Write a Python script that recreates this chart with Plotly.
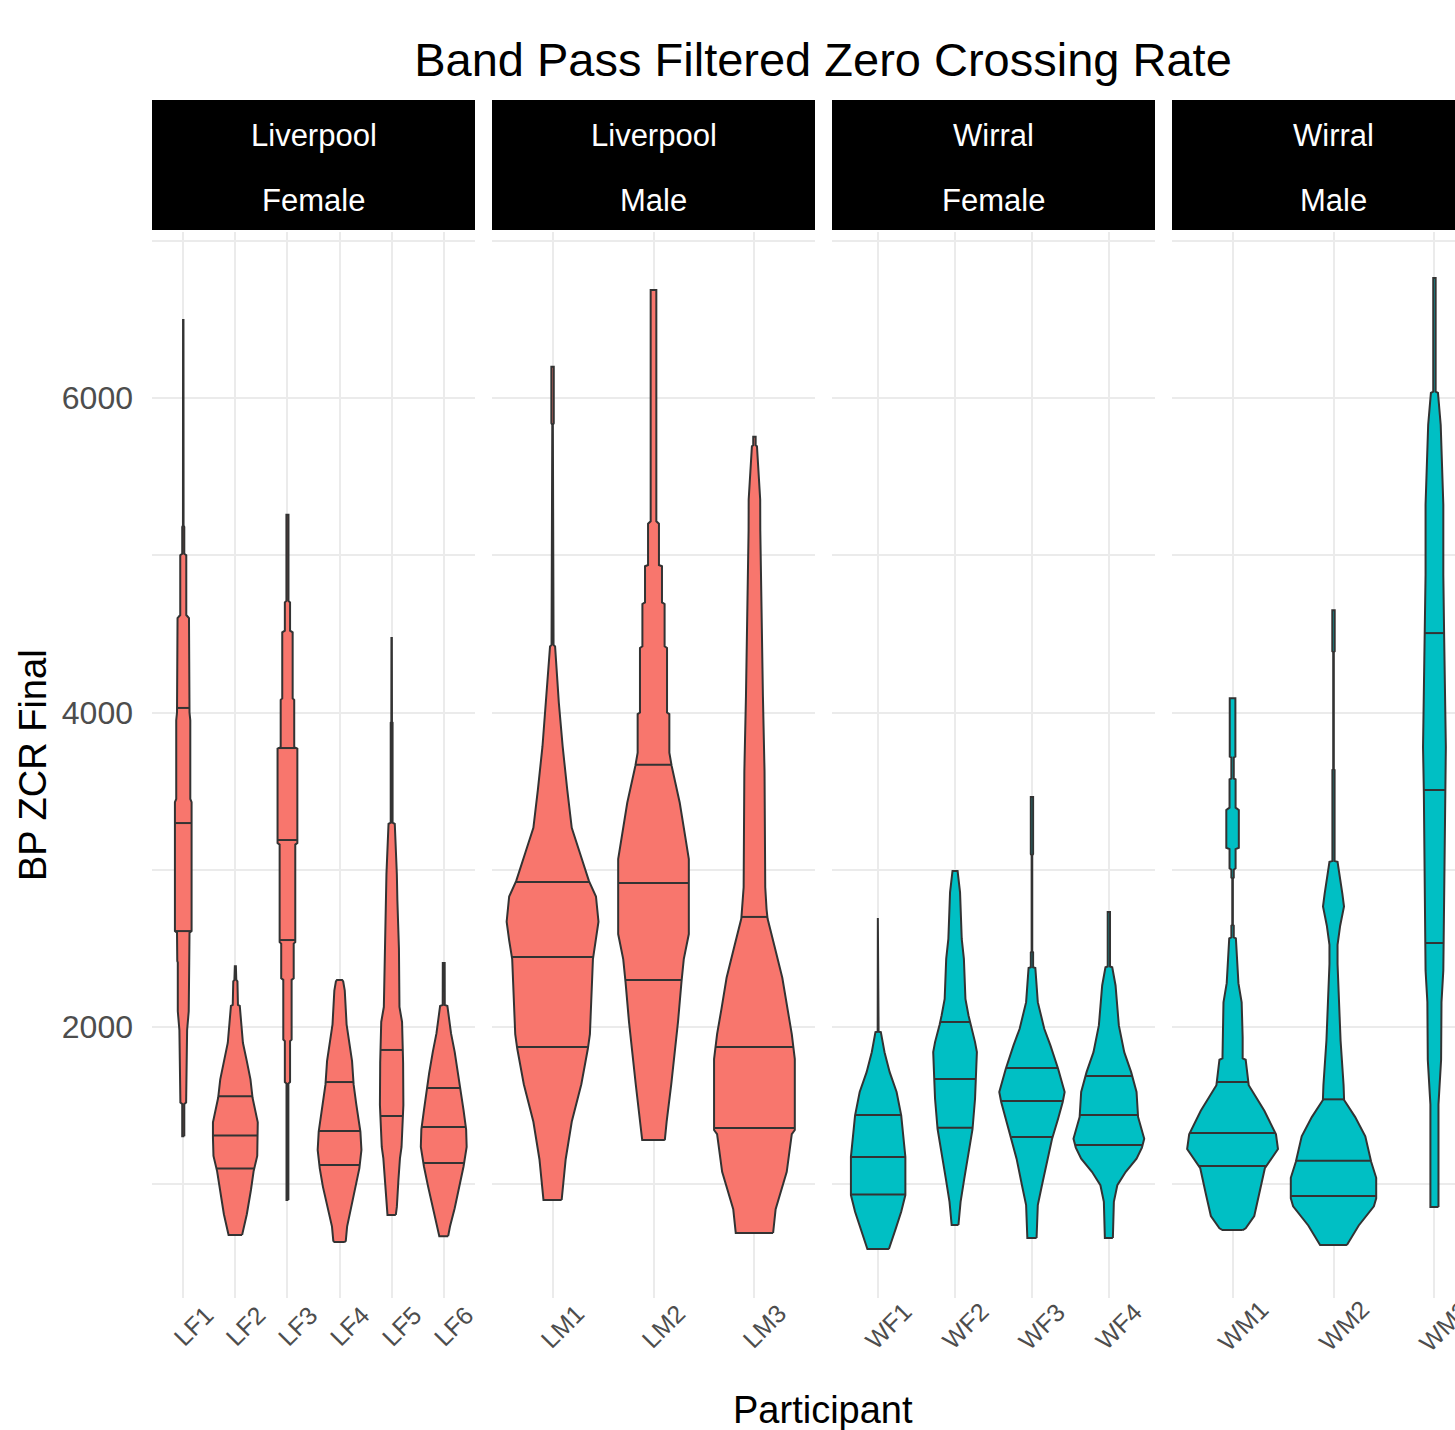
import numpy as np
import plotly.graph_objects as go

# ---------------- data ----------------
title_text = "Band Pass Filtered Zero Crossing Rate"
y_title = "BP ZCR Final"
x_title = "Participant"

facet_city = ["Liverpool", "Liverpool", "Wirral", "Wirral"]
facet_sex = ["Female", "Male", "Female", "Male"]
panel_participants = [
    ["LF1", "LF2", "LF3", "LF4", "LF5", "LF6"],
    ["LM1", "LM2", "LM3"],
    ["WF1", "WF2", "WF3", "WF4"],
    ["WM1", "WM2", "WM3"],
]
city_colors = {"Liverpool": "#F8766D", "Wirral": "#00BFC4"}

y_major_ticks = [2000, 4000, 6000]

# violin outline profiles: (BP ZCR value, half width in category units)
LF1_profile = [(6496, 0.004), (5190, 0.006), (5180, 0.02), (5010, 0.02), (5000, 0.058), (4620, 0.058),
               (4600, 0.11), (4000, 0.12), (3950, 0.135), (3450, 0.135), (3430, 0.16), (2610, 0.16),
               (2600, 0.12), (2420, 0.115), (2410, 0.105), (2100, 0.105), (1980, 0.074), (1520, 0.055),
               (1510, 0.02), (1305, 0.02)]
LF2_profile = [(2387, 0.01), (2300, 0.018), (2290, 0.04), (2140, 0.05), (2134, 0.085), (1900, 0.145),
               (1783, 0.22), (1667, 0.29), (1550, 0.33), (1394, 0.43), (1296, 0.43), (1180, 0.42),
               (1082, 0.35), (965, 0.3), (809, 0.22), (692, 0.14), (678, 0.13)]
LF3_profile = [(5257, 0.02), (4710, 0.02), (4700, 0.05), (4520, 0.05), (4510, 0.1), (4090, 0.1),
               (4080, 0.13), (3780, 0.13), (3770, 0.19), (3170, 0.19), (3160, 0.15), (2540, 0.15),
               (2530, 0.12), (2310, 0.12), (2300, 0.08), (1920, 0.08), (1910, 0.05), (1650, 0.05),
               (1640, 0.018), (900, 0.018)]
LF4_profile = [(2299, 0.05), (2290, 0.07), (2232, 0.1), (2017, 0.135), (1900, 0.19), (1783, 0.24),
               (1635, 0.27), (1511, 0.32), (1335, 0.4), (1218, 0.42), (1101, 0.38), (985, 0.32),
               (848, 0.22), (731, 0.145), (640, 0.12), (633, 0.1)]
LF5_profile = [(4474, 0.004), (3940, 0.006), (3935, 0.018), (3300, 0.018), (3292, 0.06), (2972, 0.1),
               (2804, 0.11), (2500, 0.14), (2394, 0.144), (2127, 0.15), (2032, 0.2), (1771, 0.22),
               (1504, 0.225), (1300, 0.2), (1237, 0.19), (1167, 0.16), (1027, 0.13), (856, 0.1),
               (805, 0.08)]
LF6_profile = [(2407, 0.018), (2140, 0.02), (2134, 0.07), (1959, 0.14), (1842, 0.21), (1706, 0.28),
               (1472, 0.38), (1347, 0.43), (1238, 0.44), (1113, 0.38), (985, 0.3), (848, 0.21),
               (731, 0.12), (670, 0.085)]
LM1_profile = [(6198, 0.012), (5840, 0.012), (5830, 0.003), (5320, 0.003), (5310, 0.01), (4430, 0.01),
               (4420, 0.025), (4222, 0.047), (4063, 0.062), (3784, 0.1), (3506, 0.146), (3267, 0.19),
               (3108, 0.27), (2929, 0.36), (2830, 0.43), (2670, 0.455), (2551, 0.43), (2432, 0.4),
               (1955, 0.37), (1863, 0.35), (1636, 0.285), (1397, 0.19), (1159, 0.13), (900, 0.09)]
LM2_profile = [(6687, 0.028), (5216, 0.028), (5200, 0.054), (4938, 0.054), (4930, 0.084), (4700, 0.084),
               (4690, 0.11), (4421, 0.11), (4410, 0.134), (4000, 0.134), (3990, 0.157), (3744, 0.157),
               (3660, 0.18), (3426, 0.26), (3188, 0.32), (3068, 0.35), (2591, 0.35), (2432, 0.3),
               (2285, 0.277), (2034, 0.243), (1636, 0.176), (1397, 0.13), (1281, 0.112)]
LM3_profile = [(5753, 0.012), (5700, 0.012), (5693, 0.025), (5355, 0.057), (5157, 0.058), (4103, 0.084),
               (3625, 0.1), (2889, 0.107), (2750, 0.12), (2690, 0.13), (2511, 0.2), (2313, 0.276),
               (2114, 0.327), (1955, 0.37), (1796, 0.4), (1345, 0.4), (1318, 0.37), (1079, 0.32),
               (841, 0.21), (690, 0.185)]
WF1_profile = [(2693, 0.004), (1970, 0.006), (1967, 0.035), (1840, 0.083), (1713, 0.15), (1587, 0.24),
               (1438, 0.3), (1174, 0.354), (931, 0.354), (825, 0.3), (719, 0.23), (634, 0.175),
               (588, 0.14)]
WF2_profile = [(2992, 0.033), (2856, 0.065), (2560, 0.087), (2433, 0.115), (2179, 0.135), (2073, 0.175),
               (2016, 0.2), (1904, 0.26), (1840, 0.284), (1665, 0.27), (1544, 0.26), (1350, 0.227),
               (1206, 0.175), (1036, 0.12), (888, 0.072), (741, 0.044)]
WF3_profile = [(3463, 0.015), (3100, 0.015), (3090, 0.004), (2480, 0.004), (2475, 0.015), (2380, 0.015),
               (2375, 0.044), (2158, 0.076), (1989, 0.16), (1883, 0.24), (1735, 0.34), (1587, 0.425),
               (1523, 0.4), (1417, 0.34), (1286, 0.26), (1163, 0.2), (994, 0.13), (867, 0.076),
               (658, 0.06)]
WF4_profile = [(2732, 0.015), (2385, 0.015), (2380, 0.044), (2264, 0.087), (2010, 0.13), (1840, 0.2),
               (1713, 0.29), (1587, 0.36), (1428, 0.38), (1290, 0.46), (1233, 0.43), (1163, 0.36),
               (1079, 0.22), (994, 0.11), (888, 0.065), (658, 0.052)]
WM1_profile = [(4091, 0.028), (3720, 0.028), (3715, 0.012), (3580, 0.012), (3575, 0.03), (3395, 0.03),
               (3380, 0.062), (3140, 0.062), (3131, 0.03), (3009, 0.03), (3000, 0.012), (2950, 0.012),
               (2945, 0.003), (2650, 0.003), (2644, 0.012), (2570, 0.012), (2563, 0.033), (2279, 0.058),
               (2157, 0.09), (1934, 0.1), (1800, 0.1), (1792, 0.13), (1630, 0.16), (1467, 0.315),
               (1317, 0.43), (1224, 0.45), (1102, 0.32), (940, 0.265), (798, 0.215), (720, 0.13),
               (709, 0.1)]
WM2_profile = [(4651, 0.012), (4390, 0.012), (4385, 0.003), (3640, 0.003), (3635, 0.011), (3055, 0.011),
               (3050, 0.04), (2847, 0.088), (2766, 0.104), (2644, 0.066), (2522, 0.04), (2400, 0.04),
               (1914, 0.07), (1630, 0.1), (1536, 0.105), (1427, 0.215), (1305, 0.315), (1143, 0.373),
               (1041, 0.423), (911, 0.423), (860, 0.4), (738, 0.25), (613, 0.133)]
WM3_profile = [(6763, 0.012), (6040, 0.012), (6032, 0.035), (5830, 0.062), (5485, 0.078), (5322, 0.088),
               (4876, 0.088), (4490, 0.096), (3780, 0.113), (3496, 0.105), (3009, 0.096), (2360, 0.088),
               (2157, 0.07), (1792, 0.066), (1508, 0.04), (855, 0.04)]

# drawn quantile lines (75%, 50%, 25%)
LF1_quantiles = [4029, 3297, 2610]
LF2_quantiles = [1560, 1310, 1100]
LF3_quantiles = [3774, 3189, 2553]
LF4_quantiles = [1650, 1338, 1122]
LF5_quantiles = [1854, 1434]
LF6_quantiles = [1612, 1364, 1135]
LM1_quantiles = [2922, 2445, 1873]
LM2_quantiles = [3667, 2916, 2299]
LM3_quantiles = [2700, 1873, 1358]
WF1_quantiles = [1440, 1174, 935]
WF2_quantiles = [2032, 1670, 1360]
WF3_quantiles = [1739, 1529, 1300]
WF4_quantiles = [1688, 1440, 1250]
WM1_quantiles = [1650, 1326, 1116]
WM2_quantiles = [1540, 1150, 925]
WM3_quantiles = [4505, 3507, 2534]

profiles = {
    "LF1": LF1_profile, "LF2": LF2_profile, "LF3": LF3_profile, "LF4": LF4_profile,
    "LF5": LF5_profile, "LF6": LF6_profile, "LM1": LM1_profile, "LM2": LM2_profile,
    "LM3": LM3_profile, "WF1": WF1_profile, "WF2": WF2_profile, "WF3": WF3_profile,
    "WF4": WF4_profile, "WM1": WM1_profile, "WM2": WM2_profile, "WM3": WM3_profile,
}
quantiles = {
    "LF1": LF1_quantiles, "LF2": LF2_quantiles, "LF3": LF3_quantiles, "LF4": LF4_quantiles,
    "LF5": LF5_quantiles, "LF6": LF6_quantiles, "LM1": LM1_quantiles, "LM2": LM2_quantiles,
    "LM3": LM3_quantiles, "WF1": WF1_quantiles, "WF2": WF2_quantiles, "WF3": WF3_quantiles,
    "WF4": WF4_quantiles, "WM1": WM1_quantiles, "WM2": WM2_quantiles, "WM3": WM3_quantiles,
}

# ---------------- layout geometry ----------------
W, H = 1455, 1430
L_M, T_M, B_M = 152, 232, 132
plot_w = W - L_M
plot_h = H - T_M - B_M
panel_px = [(152, 475), (492, 815), (832, 1155), (1172, 1495)]  # last panel is cut by the page edge
px_per_val = 0.15725
y_range = [(1341.5 - (T_M + plot_h)) / px_per_val, (1341.5 - T_M) / px_per_val]

def xp(px):
    return (px - L_M) / plot_w

def yp(py):
    return (T_M + plot_h - py) / plot_h

OUTLINE = "#333333"
GRID = "#EBEBEB"
TICK_COL = "#4D4D4D"
FONT = "Liberation Sans, Arial, sans-serif"

fig = go.Figure()
layout_axes = {}
shapes = []
annotations = []

for i, parts in enumerate(panel_participants):
    k = "" if i == 0 else str(i + 1)
    xa, ya = "x" + k, "y" + k
    n = len(parts)
    full_range = [0.4, n + 0.6]
    p0, p1 = panel_px[i]
    unit = (p1 - p0) / (full_range[1] - full_range[0])
    vis_p1 = min(p1, W)
    rng = [full_range[0], full_range[0] + (vis_p1 - p0) / unit]
    color = city_colors[facet_city[i]]

    for j, name in enumerate(parts):
        c = j + 1
        prof = sorted(profiles[name], key=lambda t: t[0])
        vals = np.array([p[0] for p in prof], dtype=float)
        hw = np.array([p[1] for p in prof], dtype=float)
        xs = np.concatenate([c + hw, (c - hw)[::-1], [c + hw[0]]])
        ys = np.concatenate([vals, vals[::-1], [vals[0]]])
        fig.add_trace(go.Scatter(
            x=xs, y=ys, xaxis=xa, yaxis=ya, mode="lines", fill="toself",
            fillcolor=color, line=dict(color=OUTLINE, width=2), hoverinfo="skip",
        ))
        qx, qy = [], []
        for q in quantiles[name]:
            w = float(np.interp(q, vals, hw))
            qx += [c - w, c + w, None]
            qy += [q, q, None]
        fig.add_trace(go.Scatter(
            x=qx, y=qy, xaxis=xa, yaxis=ya, mode="lines",
            line=dict(color=OUTLINE, width=2), hoverinfo="skip",
        ))
        # rotated tick label
        annotations.append(dict(
            text=name, xref=xa, x=c, yref="paper", y=yp(1326), xshift=10,
            showarrow=False, textangle=-45, xanchor="center", yanchor="middle",
            font=dict(size=25, color=TICK_COL, family=FONT),
        ))

    layout_axes["xaxis" + k] = dict(
        domain=[xp(p0), xp(vis_p1)], range=rng, anchor=ya,
        tickmode="array", tickvals=list(range(1, n + 1)), showticklabels=False,
        showgrid=True, gridcolor=GRID, gridwidth=2, zeroline=False, showline=False, ticks="",
    )
    yax = dict(
        domain=[0, 1], range=y_range, anchor=xa,
        tickmode="array", tickvals=y_major_ticks, ticktext=[str(v) for v in y_major_ticks],
        showgrid=True, gridcolor=GRID, gridwidth=2, zeroline=False, showline=False, ticks="",
        minor=dict(dtick=1000, tick0=0, showgrid=True, gridcolor=GRID, gridwidth=1.5),
        tickfont=dict(size=32, color=TICK_COL, family=FONT), ticklabelstandoff=18,
    )
    if i > 0:
        yax["matches"] = "y"
        yax["showticklabels"] = False
    layout_axes["yaxis" + k] = yax

    # facet strip
    shapes.append(dict(
        type="rect", xref=xa + " domain", x0=0, x1=1, yref="paper",
        y0=yp(230), y1=yp(100), fillcolor="black", line=dict(width=0), layer="above",
    ))
    mid = (full_range[0] + full_range[1]) / 2
    annotations.append(dict(
        text=facet_city[i], xref=xa, x=mid, yref="paper", y=yp(135), showarrow=False,
        xanchor="center", yanchor="middle", font=dict(size=31, color="white", family=FONT),
    ))
    annotations.append(dict(
        text=facet_sex[i], xref=xa, x=mid, yref="paper", y=yp(200), showarrow=False,
        xanchor="center", yanchor="middle", font=dict(size=31, color="white", family=FONT),
    ))

# axis titles
annotations.append(dict(
    text=y_title, xref="paper", x=xp(33), yref="paper", y=yp(765), showarrow=False,
    textangle=-90, xanchor="center", yanchor="middle", font=dict(size=38, color="black", family=FONT),
))
annotations.append(dict(
    text=x_title, xref="paper", x=xp(823), yref="paper", y=yp(1410), showarrow=False,
    xanchor="center", yanchor="middle", font=dict(size=38, color="black", family=FONT),
))

fig.update_layout(
    width=W, height=H,
    margin=dict(l=L_M, r=0, t=T_M, b=B_M, pad=0),
    plot_bgcolor="white", paper_bgcolor="white", showlegend=False,
    font=dict(family=FONT),
    title=dict(text=title_text, x=xp(823), xref="paper", xanchor="center",
               y=1 - 60 / H, yref="container", yanchor="middle",
               font=dict(size=47, color="black", family=FONT)),
    shapes=shapes, annotations=annotations,
    **layout_axes,
)

fig.write_html(
    "out.html",
    config={"displayModeBar": False},
    post_script="document.body.style.margin='0';document.body.style.overflow='hidden';",
)
